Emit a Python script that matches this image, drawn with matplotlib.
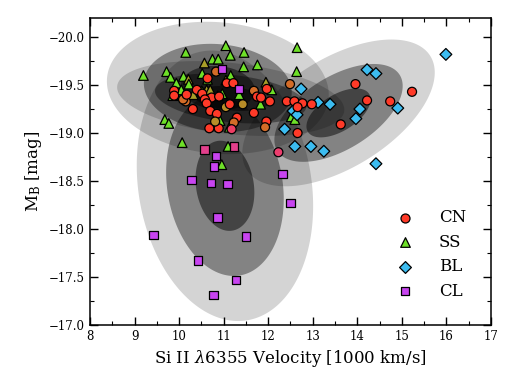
import numpy as np
import matplotlib
matplotlib.use("Agg")
import matplotlib.pyplot as plt
from matplotlib.ticker import MultipleLocator
from matplotlib.colors import to_rgb

plt.rcParams['font.family'] = ['DejaVu Serif']
plt.rcParams['mathtext.fontset'] = 'dejavuserif'

# --- data: (velocity [1000 km/s], M_B [mag]) ---
cn_v = [10.83, 10.64, 11.07, 11.22, 9.89, 10.40, 10.52, 10.73, 10.58, 9.89,
        10.15, 10.09, 10.17, 10.31, 10.62, 10.70, 10.85, 11.05, 11.14, 11.43,
        11.68, 11.75, 11.84, 12.04, 11.97, 11.68, 11.30, 11.23, 11.18, 10.89,
        10.68, 10.81, 11.96, 11.93, 12.49, 12.42, 12.59, 12.77, 12.98, 12.66,
        12.66, 12.23, 13.96, 14.22, 14.74, 15.23, 13.63, 10.90]
cn_m = [-19.64, -19.57, -19.52, -19.52, -19.44, -19.45, -19.41, -19.37, -19.35, -19.39,
        -19.33, -19.35, -19.40, -19.25, -19.31, -19.23, -19.20, -19.27, -19.30, -19.30,
        -19.44, -19.38, -19.37, -19.33, -19.46, -19.21, -19.16, -19.11, -19.04, -19.05,
        -19.05, -19.12, -19.12, -19.06, -19.51, -19.33, -19.33, -19.31, -19.30, -19.27,
        -19.00, -18.80, -19.51, -19.34, -19.33, -19.43, -19.09, -19.38]

ss_v = [9.20, 10.15, 11.05, 11.15, 11.46, 10.75, 10.88, 10.57, 11.45, 11.76,
        12.65, 12.64, 9.72, 9.81, 10.10, 9.94, 10.21, 10.22, 10.52, 10.64,
        11.16, 11.05, 10.05, 10.32, 10.51, 10.62, 10.70, 9.86, 10.87, 10.97,
        11.35, 11.95, 12.08, 11.83, 9.68, 9.77, 10.92, 10.07, 11.10, 10.96,
        12.52, 12.60, 11.13]
ss_m = [-19.60, -19.84, -19.91, -19.81, -19.84, -19.77, -19.77, -19.73, -19.69, -19.71,
        -19.89, -19.64, -19.64, -19.58, -19.59, -19.52, -19.56, -19.51, -19.62, -19.56,
        -19.60, -19.55, -19.45, -19.40, -19.44, -19.45, -19.45, -19.39, -19.39, -19.41,
        -19.40, -19.53, -19.45, -19.30, -19.14, -19.10, -19.13, -18.90, -18.86, -18.67,
        -19.17, -19.14, -19.06]

bl_v = [15.99, 14.22, 14.42, 12.74, 13.12, 13.39, 14.91, 14.06, 13.97, 12.56,
        12.65, 12.37, 12.60, 12.96, 13.25, 14.42]
bl_m = [-19.82, -19.66, -19.62, -19.46, -19.32, -19.30, -19.26, -19.25, -19.15, -19.23,
        -19.19, -19.04, -18.86, -18.86, -18.81, -18.68]

cl_v = [10.96, 11.34, 10.57, 11.23, 10.83, 10.79, 10.28, 10.71, 11.09, 12.32,
        12.50, 10.86, 9.43, 11.50, 10.42, 11.28, 10.77]
cl_m = [-19.67, -19.46, -18.83, -18.86, -18.76, -18.65, -18.51, -18.48, -18.47, -18.57,
        -18.27, -18.12, -17.94, -17.92, -17.67, -17.47, -17.31]

# mixed membership of some points: index -> (other group, fraction)
cn_blend = {0: ('SS', 0.3), 10: ('SS', 0.3), 11: ('SS', 0.3), 17: ('SS', 0.5),
            19: ('SS', 0.5), 20: ('SS', 0.3), 27: ('SS', 0.3), 28: ('CL', 0.3),
            31: ('SS', 0.5), 33: ('SS', 0.3), 34: ('SS', 0.3), 41: ('CL', 0.35)}
ss_blend = {7: ('CN', 0.4), 16: ('CN', 0.4), 21: ('CN', 0.4), 23: ('CN', 0.4),
            25: ('CN', 0.4), 26: ('CN', 0.4), 31: ('CN', 0.4)}
bl_blend = {}
cl_blend = {2: ('CN', 0.5), 3: ('CN', 0.5)}

# Gaussian ellipse parameters per group: centre v, centre m, sigma v, sigma m, correlation
ell_names = ['CN', 'SS', 'BL', 'CL']
ell_cv = [11.16, 10.87, 13.58, 11.03]
ell_cm = [-19.36, -19.47, -19.21, -18.45]
ell_sv = [0.85, 0.83, 0.72, 0.66]
ell_sm = [0.13, 0.23, 0.255, 0.47]
ell_rho = [0.3, 0.1, -0.55, 0.15]

colors = {'CN': '#ff3a28', 'SS': '#6ee028', 'BL': '#3cbcf0', 'CL': '#c844f0'}
markers = {'CN': 'o', 'SS': '^', 'BL': 'D', 'CL': 's'}
sizes = {'CN': 42, 'SS': 48, 'BL': 36, 'CL': 36}

fig = plt.figure(figsize=(5.2, 3.9), dpi=100)
ax = fig.add_axes([0.173, 0.167, 0.771, 0.787])

# confidence ellipses (1, 2, 3 sigma)
t = np.linspace(0, 2 * np.pi, 300)
alphas = {3: 0.17, 2: 0.38, 1: 0.48}
for i in range(len(ell_names)):
    cov = np.array([[ell_sv[i] ** 2, ell_rho[i] * ell_sv[i] * ell_sm[i]],
                    [ell_rho[i] * ell_sv[i] * ell_sm[i], ell_sm[i] ** 2]])
    L = np.linalg.cholesky(cov)
    circ = np.vstack([np.cos(t), np.sin(t)])
    for n in (3, 2, 1):
        pts = n * (L @ circ)
        ax.fill(ell_cv[i] + pts[0], ell_cm[i] + pts[1], color='k',
                alpha=alphas[n], lw=0, zorder=1)


def point_colors(name, count, blend):
    base = np.array(to_rgb(colors[name]))
    out = []
    for k in range(count):
        if k in blend:
            other, f = blend[k]
            out.append((1 - f) * base + f * np.array(to_rgb(colors[other])))
        else:
            out.append(base)
    return out


groups = {'CN': (cn_v, cn_m, cn_blend), 'SS': (ss_v, ss_m, ss_blend),
          'BL': (bl_v, bl_m, bl_blend), 'CL': (cl_v, cl_m, cl_blend)}
zorders = {'SS': 3, 'BL': 4, 'CN': 5, 'CL': 6}
handles = {}
for name in ['SS', 'BL', 'CN', 'CL']:
    v, m, blend = groups[name]
    ax.scatter(v, m, s=sizes[name], marker=markers[name],
               c=point_colors(name, len(v), blend), edgecolors='k',
               linewidths=0.9, zorder=zorders[name])
    handles[name] = ax.scatter([], [], s=sizes[name], marker=markers[name],
                               c=colors[name], edgecolors='k', linewidths=0.9,
                               label=name)

order = ['CN', 'SS', 'BL', 'CL']
ax.legend([handles[k] for k in order], order, loc='lower right',
          frameon=False, fontsize=12, scatterpoints=1, handletextpad=1.0,
          labelspacing=0.45, borderaxespad=1.1)

ax.set_xlim(8, 17)
ax.set_ylim(-17.0, -20.2)
ax.xaxis.set_major_locator(MultipleLocator(1))
ax.xaxis.set_minor_locator(MultipleLocator(0.5))
ax.yaxis.set_major_locator(MultipleLocator(0.5))
ax.yaxis.set_minor_locator(MultipleLocator(0.25))
ax.tick_params(which='both', direction='in', top=True, right=True,
               labelsize=8.5)
ax.tick_params(which='major', length=6, width=1)
ax.tick_params(which='minor', length=3, width=0.8)
for sp in ax.spines.values():
    sp.set_linewidth(1.1)

ax.set_xlabel(r'Si II $\lambda$6355 Velocity [1000 km/s]', fontsize=12)
ax.set_ylabel(r'$\mathrm{M_B}$ [mag]', fontsize=12)

fig.savefig('out.png', dpi=100)
